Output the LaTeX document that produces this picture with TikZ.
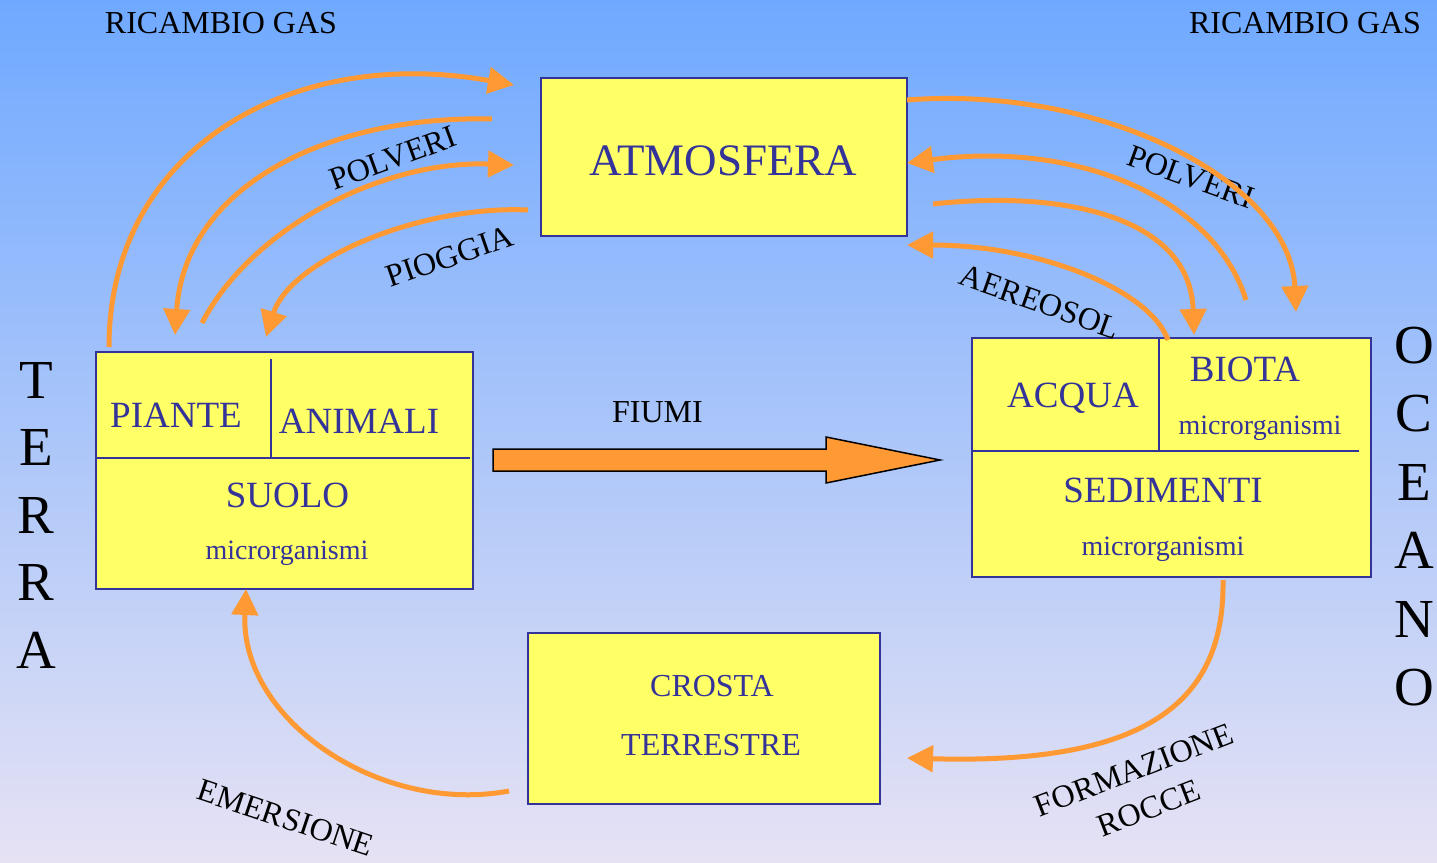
\documentclass[tikz,border=0pt]{standalone}
\usepackage{fontspec}
\setmainfont{Liberation Serif}
\usetikzlibrary{arrows.meta}
\definecolor{cieloalto}{RGB}{111,169,255}
\definecolor{cielomezzo}{RGB}{162,199,247}
\definecolor{cielobasso}{RGB}{230,226,244}
\definecolor{giallo}{RGB}{255,255,102}
\definecolor{blu}{RGB}{51,51,153}
\definecolor{arancio}{RGB}{255,153,51}

\begin{document}
\begin{tikzpicture}[x=1pt,y=-1pt,
    flusso/.style={draw=arancio, line width=5pt, -{Triangle[length=26pt,width=26pt]}},
    divisione/.style={draw=blu, line width=2.5pt}]
  \useasboundingbox (0,0) rectangle (1437,862);
  \shade[top color=cieloalto, middle color=cielomezzo, bottom color=cielobasso] (0,0) rectangle (1437,862);

  \begin{scope}[every node/.style={draw=blu, line width=2pt, fill=giallo, inner sep=0pt}]
    \node (atm) [minimum width=366pt, minimum height=158pt] at (724,157) {};
    \node (terra) [minimum width=377pt, minimum height=237pt] at (284.5,470.5) {};
    \node (oceano) [minimum width=399pt, minimum height=239pt] at (1171.5,457.5) {};
    \node (crosta) [minimum width=352pt, minimum height=171pt] at (704,718.5) {};
  \end{scope}
  \draw[divisione] (271,359) -- (271,458);
  \draw[divisione] (96,458) -- (470,458);
  \draw[divisione] (1159,338) -- (1159,451);
  \draw[divisione] (972,451) -- (1359,451);

  \begin{scope}[every node/.style={text=blu, anchor=base, inner sep=0pt}]
    \node (atmtxt) [font=\fontsize{45}{54}\selectfont] at (723.5,175) {ATMOSFERA};
    \node (piante) [font=\fontsize{37}{44}\selectfont] at (176,427) {PIANTE};
    \node (animali) [font=\fontsize{37}{44}\selectfont] at (359,433) {ANIMALI};
    \node (suolo) [font=\fontsize{37}{44}\selectfont] at (287.5,507) {SUOLO};
    \node (microS) [font=\fontsize{28}{34}\selectfont] at (287,559) {microrganismi};
    \node (acqua) [font=\fontsize{37}{44}\selectfont] at (1073,407) {ACQUA};
    \node (biota) [font=\fontsize{37}{44}\selectfont] at (1245,381) {BIOTA};
    \node (microB) [font=\fontsize{28}{34}\selectfont] at (1260,434) {microrganismi};
    \node (sedimenti) [font=\fontsize{37}{44}\selectfont] at (1163,502) {SEDIMENTI};
    \node (microSed) [font=\fontsize{28}{34}\selectfont] at (1163,555) {microrganismi};
    \node (crosta1) [font=\fontsize{32}{38}\selectfont] at (712,696) {CROSTA};
    \node (crosta2) [font=\fontsize{32}{38}\selectfont] at (711,755) {TERRESTRE};
  \end{scope}

  \begin{scope}[every node/.style={text=black, inner sep=0pt, font=\fontsize{32}{41}\selectfont}]
    \node (gasT) [anchor=base] at (221,33) {RICAMBIO GAS};
    \node (gasO) [anchor=base] at (1305,33) {RICAMBIO GAS};
    \node (fiumi) [anchor=base] at (657.5,422) {FIUMI};
    \node (polvT) [rotate=20] at (393,158) {POLVERI};
    \node (pioggia) [rotate=19] at (449.5,256.5) {PIOGGIA};
    \node (polvO) [rotate=-20] at (1191,177) {POLVERI};
    \node (aereosol) [rotate=-19.5] at (1040,302) {AEREOSOL};
    \node (emersione) [rotate=-18.5] at (286,818) {EMERSIONE};
    \node (formazione) [rotate=21, align=center] at (1141.5,789) {FORMAZIONE\\ROCCE};
    \node (terraV) [align=center, font=\fontsize{55}{67.5}\selectfont] at (36,515) {T\\E\\R\\R\\A};
    \node (oceanoV) [align=center, font=\fontsize{55}{68.5}\selectfont] at (1414,516.5) {O\\C\\E\\A\\N\\O};
  \end{scope}

  \filldraw[fill=arancio, draw=black, line width=1.5pt]
    (493,449) -- (826,449) -- (826,437) -- (940,460) -- (826,483) -- (826,471) -- (493,471) -- cycle;

  \coordinate (gasTa) at (109,347);   \coordinate (gasTb) at (514,85);
  \coordinate (polvTa) at (492,119);  \coordinate (polvTb) at (175,335);
  \coordinate (polvTc) at (202,323);  \coordinate (polvTd) at (514,165);
  \coordinate (piogA) at (528,210);   \coordinate (piogB) at (266,337);
  \coordinate (gasOa) at (907,100);   \coordinate (gasOb) at (1296,312);
  \coordinate (polvOa) at (1246,300); \coordinate (polvOb) at (907,163);
  \coordinate (polvOc) at (933,204);  \coordinate (polvOd) at (1194,335);
  \coordinate (aerA) at (1168,340);   \coordinate (aerB) at (907,245);
  \coordinate (emerA) at (509,791);   \coordinate (emerB) at (246,589);
  \coordinate (formA) at (1223,580);  \coordinate (formB) at (907,758);

  \draw[flusso] (gasTa) .. controls +(0,-197) and +(-224,-40) .. (gasTb);
  \draw[flusso] (polvTa) .. controls +(-162,-4) and +(10,-150) .. (polvTb);
  \draw[flusso] (polvTc) .. controls +(48,-93) and +(-134,-5) .. (polvTd);
  \draw[flusso] (piogA) .. controls +(-108,-5) and +(24,-77) .. (piogB);
  \draw[flusso] (gasOa) .. controls +(193,-15) and +(-6,-132) .. (gasOb);
  \draw[flusso] (polvOa) .. controls +(-31,-100) and +(173,-23) .. (polvOb);
  \draw[flusso] (polvOc) .. controls +(127,-14) and +(-4,-120) .. (polvOd);
  \draw[flusso] (aerA) .. controls +(-18,-50) and +(133,0) .. (aerB);
  \draw[flusso] (emerA) .. controls +(-129,24) and +(-6,131) .. (emerB);
  \draw[flusso] (formA) .. controls +(2,120) and +(243,7) .. (formB);
\end{tikzpicture}
\end{document}
